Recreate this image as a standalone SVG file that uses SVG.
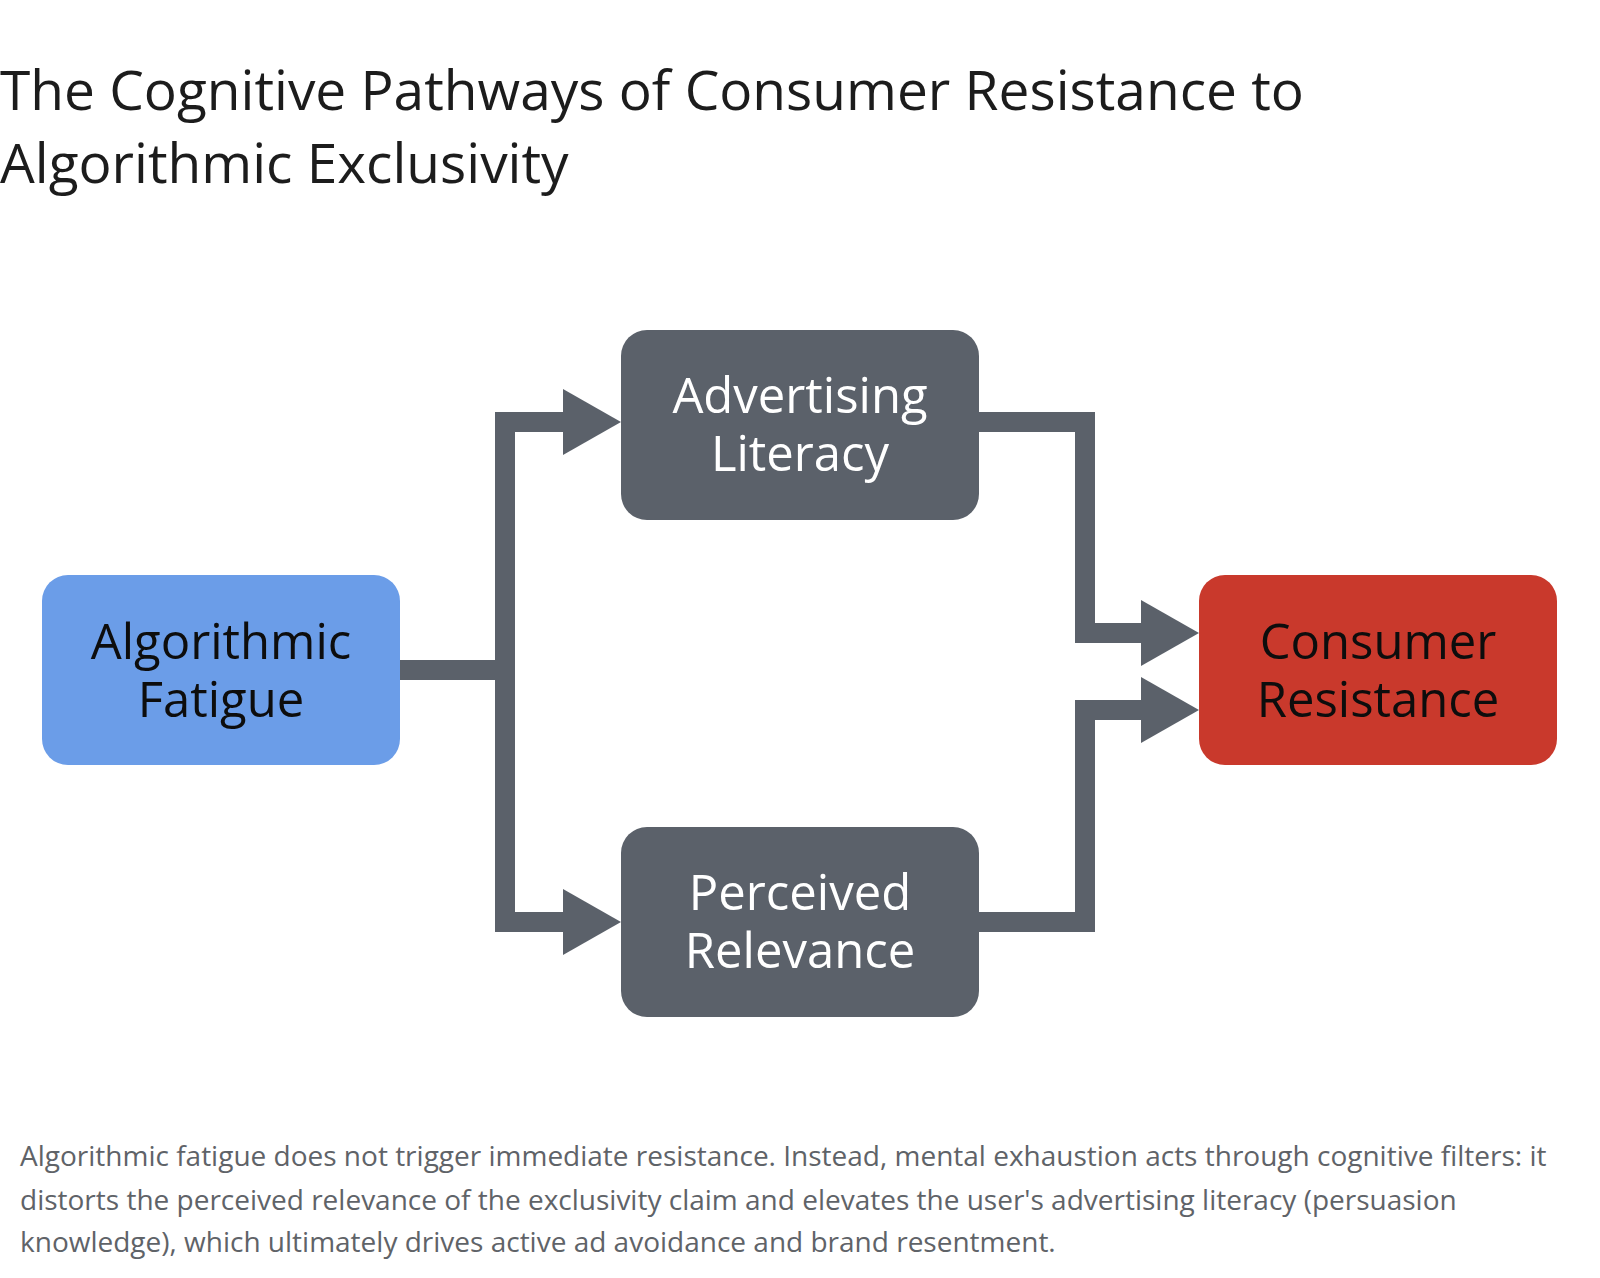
<svg xmlns="http://www.w3.org/2000/svg" width="1600" height="1278" viewBox="0 0 1600 1278">
<defs>
<style>
.title{font-family:"Open Sans","Liberation Sans",sans-serif;font-size:55px;fill:#1c1c1c}
.lbl{font-family:"Open Sans","Liberation Sans",sans-serif;font-size:49px;text-anchor:middle}
.cap{font-family:"Open Sans","Liberation Sans",sans-serif;font-size:28px;fill:#5f6368}
.conn{fill:none;stroke:#5b616a;stroke-width:20}
.head{fill:#5b616a}
</style>
</defs>
<rect width="1600" height="1278" fill="#ffffff"/>
<text class="title" x="0" y="110">The Cognitive Pathways of Consumer Resistance to</text>
<text class="title" x="0" y="183">Algorithmic Exclusivity</text>
<g id="connectors">
<path class="conn" d="M400 670 H505"/>
<path class="conn" d="M505 922 V422 H566"/>
<path class="conn" d="M505 670 V922 H566"/>
<polygon class="head" points="563,389 621,422 563,455"/>
<polygon class="head" points="563,889 621,922 563,955"/>
<path class="conn" d="M979 422 H1085 V633 H1144"/>
<path class="conn" d="M979 922 H1085 V710 H1144"/>
<polygon class="head" points="1141,600 1199,633 1141,666"/>
<polygon class="head" points="1141,677 1199,710 1141,743"/>
</g>
<g id="node-fatigue">
<rect x="42" y="575" width="358" height="190" rx="26" fill="#6b9de8"/>
<text class="lbl" x="221" y="659" fill="#0d0d0d">Algorithmic</text>
<text class="lbl" x="221" y="717" fill="#0d0d0d">Fatigue</text>
</g>
<g id="node-literacy">
<rect x="621" y="330" width="358" height="190" rx="26" fill="#5b616a"/>
<text class="lbl" x="800" y="413" fill="#ffffff">Advertising</text>
<text class="lbl" x="800" y="471" fill="#ffffff">Literacy</text>
</g>
<g id="node-relevance">
<rect x="621" y="827" width="358" height="190" rx="26" fill="#5b616a"/>
<text class="lbl" x="800" y="910" fill="#ffffff">Perceived</text>
<text class="lbl" x="800" y="968" fill="#ffffff">Relevance</text>
</g>
<g id="node-resistance">
<rect x="1199" y="575" width="358" height="190" rx="26" fill="#c9392c"/>
<text class="lbl" x="1378" y="659" fill="#0d0d0d">Consumer</text>
<text class="lbl" x="1378" y="717" fill="#0d0d0d">Resistance</text>
</g>
<text class="cap" x="20" y="1166">Algorithmic fatigue does not trigger immediate resistance. Instead, mental exhaustion acts through cognitive filters: it</text>
<text class="cap" x="20" y="1210">distorts the perceived relevance of the exclusivity claim and elevates the user's advertising literacy (persuasion</text>
<text class="cap" x="20" y="1252">knowledge), which ultimately drives active ad avoidance and brand resentment.</text>
</svg>
